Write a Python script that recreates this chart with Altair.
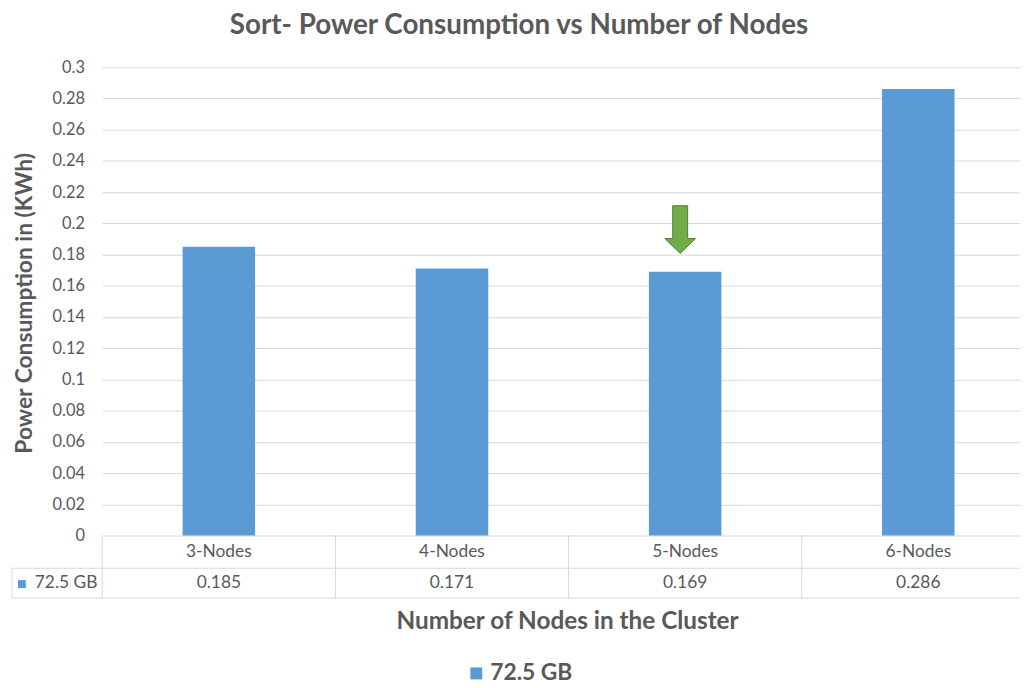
import altair as alt
import pandas as pd

categories = ["3-Nodes", "4-Nodes", "5-Nodes", "6-Nodes"]
values = [0.185, 0.171, 0.169, 0.286]
series_name = "72.5 GB"
y_ticks = [0, 0.02, 0.04, 0.06, 0.08, 0.1, 0.12, 0.14, 0.16, 0.18, 0.2, 0.22, 0.24, 0.26, 0.28, 0.3]
title_text = "Sort- Power Consumption vs Number of Nodes"
y_title = "Power Consumption in (KWh)"
x_title = "Number of Nodes in the Cluster"
arrow_category = "5-Nodes"
arrow_value = 0.196

df = pd.DataFrame({"cat": categories, "val": values})

FONT = "Lato"
TXT = "#595959"
BLUE = "#5B9BD5"
LINE = "#D9D9D9"

W, H = 925, 472
FULL_W = 940
STEP = FULL_W / len(categories)

xscale = alt.Scale(domain=categories, range=[0, FULL_W], paddingInner=0.689, paddingOuter=0.3445)
yscale = alt.Scale(domain=[0, 0.3], nice=False, zero=True)
yaxis = alt.Axis(
    values=y_ticks, format="~f", domain=False, ticks=False, grid=True,
    gridColor=LINE, gridWidth=1, labelColor=TXT, labelFont=FONT,
    labelFontSize=16.5, labelPadding=18, title=None, labelOverlap=False,
    labelFlush=False, labelBound=False)

X = alt.X("cat:N", scale=xscale, axis=None, sort=categories)

bars = alt.Chart(df).mark_bar(color=BLUE).encode(
    x=X,
    y=alt.Y("val:Q", scale=yscale, axis=yaxis),
)

one = alt.Data(values=[{}])

def txt(text, x, y, size, bold=False, align="center", angle=0):
    return alt.Chart(one).mark_text(
        text=text, font=FONT, fontSize=size, fontWeight="bold" if bold else "normal",
        color=TXT, align=align, baseline="middle", angle=angle,
    ).encode(x=alt.value(x), y=alt.value(y))

def hrule(x1, x2, y):
    return alt.Chart(one).mark_rule(color=LINE, strokeWidth=1).encode(
        x=alt.value(x1), x2=alt.value(x2), y=alt.value(y))

def vrule(x, y1, y2):
    return alt.Chart(one).mark_rule(color=LINE, strokeWidth=1).encode(
        x=alt.value(x), y=alt.value(y1), y2=alt.value(y2))

row1_bot = H + 33
row2_bot = H + 63
legend_left = -91

lines = [hrule(legend_left, FULL_W, row1_bot), hrule(legend_left, FULL_W, row2_bot),
         vrule(legend_left, row1_bot, row2_bot)]
for i in range(len(categories)):
    lines.append(vrule(i * STEP, H, row2_bot))

cat_text = alt.Chart(df).mark_text(font=FONT, fontSize=17.5, color=TXT, baseline="middle").encode(
    x=X, y=alt.value(H + 17), text="cat:N")
val_text = alt.Chart(df).mark_text(font=FONT, fontSize=17.5, color=TXT, baseline="middle").encode(
    x=X, y=alt.value(H + 48), text=alt.Text("val:Q", format=".3f"))

tbl_sq = alt.Chart(one).mark_square(color=BLUE, size=64, opacity=1, filled=True).encode(
    x=alt.value(-81), y=alt.value(H + 49))
tbl_lab = txt(series_name, -68, H + 48, 17.5, align="left")

arrow_path = "M -0.3125 -1 L 0.3125 -1 L 0.3125 0.375 L 0.646 0.375 L 0 1 L -0.646 0.375 L -0.3125 0.375 Z"
arrow = alt.Chart(pd.DataFrame({"cat": [arrow_category], "v": [arrow_value]})).mark_point(
    shape=arrow_path, filled=True, fill="#70AD47", stroke="#507E32", strokeWidth=1,
    size=2304, opacity=1, xOffset=-5,
).encode(x=X, y=alt.Y("v:Q", scale=yscale, axis=yaxis))

title = txt(title_text, 420, -41, 28, bold=True)
ytitle = txt(y_title, -78, 238, 23, bold=True, angle=270)
xtitle = txt(x_title, 469, 559, 24.5, bold=True)
leg_sq = alt.Chart(one).mark_square(color=BLUE, size=144, opacity=1, filled=True).encode(
    x=alt.value(377), y=alt.value(611))
leg_lab = txt(series_name, 391, 611, 23, bold=True, align="left")

chart = alt.layer(
    bars, *lines, cat_text, val_text, tbl_sq, tbl_lab, arrow, title, ytitle, xtitle, leg_sq, leg_lab
).properties(
    width=W, height=H,
    autosize=alt.AutoSizeParams(type="none"),
    padding={"left": 95, "top": 57, "right": 0, "bottom": 153},
).configure_view(stroke=None)

chart.save("out.html", embed_options={"renderer": "svg", "actions": False})
